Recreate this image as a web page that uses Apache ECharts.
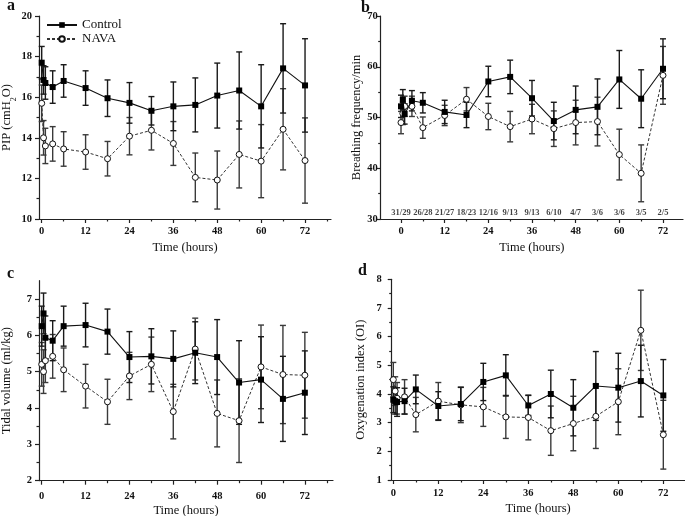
<!DOCTYPE html>
<html><head><meta charset="utf-8">
<script src="https://cdn.jsdelivr.net/npm/echarts@6/dist/echarts.min.js"></script>
<style>html,body{margin:0;padding:0;background:#fff}#c{width:685px;height:516px}</style>
</head><body><div id="c"></div>
<script>
// ---- data ----
const times = [0, 0.5, 1, 3, 6, 12, 18, 24, 30, 36, 42, 48, 54, 60, 66, 72];
const xTicks = [0, 12, 24, 36, 48, 60, 72];
const xMinorTicks = [6, 18, 30, 42, 54, 66, 78];

const pipControl    = [17.7, 16.85, 16.7, 16.5, 16.8, 16.45, 15.95, 15.72, 15.33, 15.55, 15.62, 16.08, 16.33, 15.55, 17.42, 16.58];
const pipControlErr = [0.8, 0.7, 0.8, 0.8, 0.8, 0.85, 0.9, 1.0, 0.7, 1.2, 1.33, 1.6, 1.9, 2.05, 2.2, 2.3];
const pipNava       = [15.7, 14.0, 13.6, 13.7, 13.45, 13.3, 12.97, 14.08, 14.37, 13.72, 12.05, 11.92, 13.18, 12.85, 14.42, 12.88];
const pipNavaErr    = [0.9, 0.85, 0.87, 0.85, 0.85, 0.85, 0.85, 0.92, 0.97, 1.08, 1.2, 1.43, 1.65, 1.8, 2.0, 2.1];

const bfControl     = [52.2, 53.5, 50.7, 53.3, 52.9, 51.1, 50.5, 57.1, 58.0, 53.8, 49.3, 51.5, 52.1, 57.5, 53.7, 59.6];
const bfControlErr  = [2.2, 2.0, 2.0, 2.0, 2.0, 2.3, 2.5, 3.0, 3.3, 3.5, 3.7, 4.7, 5.5, 5.7, 5.7, 5.9];
const bfNava        = [49.0, 50.8, 52.2, 52.2, 48.0, 50.4, 53.6, 50.2, 48.2, 49.7, 47.8, 49.0, 49.2, 42.7, 39.0, 58.3];
const bfNavaErr     = [2.2, 2.2, 2.0, 2.0, 2.1, 2.0, 2.3, 2.6, 3.0, 2.9, 3.5, 4.4, 4.8, 5.0, 5.6, 5.7];
const nTimes  = [0, 6, 12, 18, 24, 30, 36, 42, 48, 54, 60, 66, 72];
const nLabels = ['31/29', '26/28', '21/27', '18/23', '12/16', '9/13', '9/13', '6/10', '4/7', '3/6', '3/6', '3/5', '2/5'];

const tvControl     = [6.25, 6.6, 5.93, 5.85, 6.25, 6.28, 6.1, 5.4, 5.42, 5.35, 5.52, 5.4, 4.7, 4.78, 4.25, 4.42];
const tvControlErr  = [0.55, 0.56, 0.6, 0.55, 0.55, 0.6, 0.62, 0.7, 0.76, 0.77, 0.85, 1.03, 1.15, 1.18, 1.17, 1.15];
const tvNava        = [5.2, 5.0, 5.3, 5.42, 5.05, 4.6, 4.17, 4.88, 5.2, 3.9, 5.62, 3.85, 3.65, 5.13, 4.92, 4.9];
const tvNavaErr     = [0.6, 0.6, 0.6, 0.6, 0.6, 0.6, 0.62, 0.65, 0.75, 0.75, 0.85, 0.92, 1.15, 1.15, 1.35, 1.18];

const oiControl     = [3.8, 3.75, 3.72, 3.75, 4.16, 3.58, 3.65, 4.42, 4.65, 3.6, 4.0, 3.52, 4.28, 4.22, 4.45, 3.95];
const oiControlErr  = [0.45, 0.45, 0.5, 0.45, 0.5, 0.5, 0.58, 0.65, 0.72, 0.35, 0.83, 0.98, 1.2, 1.2, 1.25, 1.25];
const oiNava        = [4.5, 4.1, 3.85, 3.9, 3.28, 3.75, 3.62, 3.55, 3.2, 3.18, 2.72, 2.97, 3.22, 3.73, 6.22, 2.58];
const oiNavaErr     = [0.6, 0.5, 0.55, 0.6, 0.6, 0.65, 0.62, 0.68, 0.75, 0.78, 0.86, 0.95, 1.12, 1.15, 1.4, 1.2];

// ---- layout / style ----
const FONT = 'Liberation Serif';
const panels = [
  {grid:{left:39, top:16, width:292, height:203}, xmin:-0.74, xmax:79.1, ymin:10, ymax:20,
   yTicks:[10,12,14,16,18,20], yMinor:[11,13,15,17,19], yMargin:7, xMargin:7, xNameGap:22,
   yName:'PIP (cmH{sub|2}O)', yGap:25.5, ctrl:pipControl, ctrlErr:pipControlErr, nava:pipNava, navaErr:pipNavaErr},
  {grid:{left:380.7, top:16, width:302.3, height:203}, xmin:-5.58, xmax:77.5, ymin:30, ymax:70,
   yTicks:[30,40,50,60,70], yMinor:[35,45,55,65], yMargin:3, xMargin:7, xNameGap:22,
   yName:'Breathing frequency/min', yGap:13, ctrl:bfControl, ctrlErr:bfControlErr, nava:bfNava, navaErr:bfNavaErr},
  {grid:{left:39, top:280.7, width:294, height:200}, xmin:-0.74, xmax:79.7, ymin:2, ymax:7.5,
   yTicks:[2,3,4,5,6,7], yMinor:[2.5,3.5,4.5,5.5,6.5], yMargin:7, xMargin:10, xNameGap:24,
   yName:'Tidal volume (ml/kg)', yGap:25.5, ctrl:tvControl, ctrlErr:tvControlErr, nava:tvNava, navaErr:tvNavaErr},
  {grid:{left:391.7, top:279.3, width:293, height:200.7}, xmin:-0.43, xmax:77.7, ymin:1, ymax:8,
   yTicks:[1,2,3,4,5,6,7,8], yMinor:[1.5,2.5,3.5,4.5,5.5,6.5,7.5], yMargin:10, xMargin:8, xNameGap:22,
   yName:'Oxygenation index (OI)', yGap:24, ctrl:oiControl, ctrlErr:oiControlErr, nava:oiNava, navaErr:oiNavaErr}
];

const AX = '#222';
function errRender(color) {
  return function (params, api) {
    const x = api.value(0), lo = api.value(1), hi = api.value(2);
    const p1 = api.coord([x, hi]), p2 = api.coord([x, lo]);
    const w = 3;
    const st = {stroke: color, lineWidth: 1.4};
    return {type:'group', children:[
      {type:'line', shape:{x1:p1[0], y1:p1[1], x2:p2[0], y2:p2[1]}, style:st},
      {type:'line', shape:{x1:p1[0]-w, y1:p1[1], x2:p1[0]+w, y2:p1[1]}, style:st},
      {type:'line', shape:{x1:p2[0]-w, y1:p2[1], x2:p2[0]+w, y2:p2[1]}, style:st}
    ]};
  };
}

const option = {
  animation:false, backgroundColor:'#fff',
  textStyle:{fontFamily:FONT},
  grid:[], xAxis:[], yAxis:[], series:[],
  legend:{data:['Control','NAVA'], orient:'vertical', left:41, top:13, itemWidth:30, itemHeight:7, itemGap:0,
    textStyle:{fontFamily:FONT, fontSize:13, color:'#111', lineHeight:14}},
  graphic:[]
};

panels.forEach((p, i) => {
  option.grid.push(Object.assign({outerBoundsMode:'none', containLabel:false}, p.grid));
  const lineStyle = {color:AX, width:1.2};
  option.xAxis.push({type:'value', gridIndex:i, min:p.xmin, max:p.xmax, position:'bottom',
    name:'Time (hours)', nameLocation:'middle', nameGap:p.xNameGap,
    nameTextStyle:{fontFamily:FONT, fontSize:12.5, color:'#111'},
    axisLine:{show:true, onZero:false, lineStyle}, splitLine:{show:false},
    axisTick:{show:true, inside:false, length:4, lineStyle, customValues:xTicks},
    axisLabel:{show:true, margin:p.xMargin, fontFamily:FONT, fontWeight:'bold', fontSize:10.5, color:'#111', customValues:xTicks}
  });
  option.xAxis.push({type:'value', gridIndex:i, min:p.xmin, max:p.xmax, position:'bottom',
    axisLine:{show:false, onZero:false}, splitLine:{show:false},
    axisTick:{show:true, length:2.5, lineStyle, customValues:xMinorTicks},
    axisLabel:{show:false, customValues:xMinorTicks}
  });
  option.yAxis.push({type:'value', gridIndex:i, min:p.ymin, max:p.ymax, position:'left',
    name:p.yName, nameLocation:'middle', nameGap:p.yGap,
    nameTextStyle:{fontFamily:FONT, fontSize:12.5, color:'#111', rich:{sub:{fontFamily:FONT, fontSize:8, color:'#111', verticalAlign:'bottom', padding:[0,0,-4,0]}}},
    axisLine:{show:true, onZero:false, lineStyle}, splitLine:{show:false},
    axisTick:{show:true, length:4, lineStyle, customValues:p.yTicks},
    axisLabel:{show:true, margin:p.yMargin, fontFamily:FONT, fontWeight:'bold', fontSize:10.5, color:'#111', customValues:p.yTicks}
  });
  option.yAxis.push({type:'value', gridIndex:i, min:p.ymin, max:p.ymax, position:'left',
    axisLine:{show:false, onZero:false}, splitLine:{show:false},
    axisTick:{show:true, length:2.5, lineStyle, customValues:p.yMinor},
    axisLabel:{show:false, customValues:p.yMinor}
  });
  const xi = i*2, yi = i*2;
  const ctrlErr = times.map((t, k) => [t, p.ctrl[k]-p.ctrlErr[k], p.ctrl[k]+p.ctrlErr[k]]);
  const navaErr = times.map((t, k) => [t, p.nava[k]-p.navaErr[k], p.nava[k]+p.navaErr[k]]);
  option.series.push({type:'custom', xAxisIndex:xi, yAxisIndex:yi, renderItem:errRender('#3a3a3a'), data:navaErr, z:1, silent:true});
  option.series.push({type:'custom', xAxisIndex:xi, yAxisIndex:yi, renderItem:errRender('#1a1a1a'), data:ctrlErr, z:1, silent:true});
  option.series.push({name:'NAVA', type:'line', xAxisIndex:xi, yAxisIndex:yi,
    data:times.map((t,k)=>[t, p.nava[k]]), symbol:'circle', symbolSize:6,
    itemStyle:{color:'#fff', borderColor:'#111', borderWidth:1},
    lineStyle:{color:'#333', width:1, type:[3,2]}, z:3});
  option.series.push({name:'Control', type:'line', xAxisIndex:xi, yAxisIndex:yi,
    data:times.map((t,k)=>[t, p.ctrl[k]]), symbol:'rect', symbolSize:6,
    itemStyle:{color:'#000', borderColor:'#000', borderWidth:0},
    lineStyle:{color:'#111', width:1.1}, z:4});
});

// n labels in panel b
option.series.push({type:'scatter', xAxisIndex:2, yAxisIndex:2, symbolSize:0, silent:true,
  data:nTimes.map((t,k)=>({value:[t, 31.3], name:nLabels[k]})),
  label:{show:true, position:'inside', formatter:'{b}', fontFamily:FONT, fontSize:8.5, fontWeight:'bold', color:'#111'}});

// panel letters
[['a',7,-2],['b',361,0],['c',7,266],['d',358,263]].forEach(([t,x,y])=>{
  option.graphic.push({type:'text', left:x, top:y, style:{text:t, font:'bold 16px "Liberation Serif"', fill:'#111'}});
});

const chart = echarts.init(document.getElementById('c'), null, {renderer:'canvas'});
chart.setOption(option);
</script>
</body></html>
